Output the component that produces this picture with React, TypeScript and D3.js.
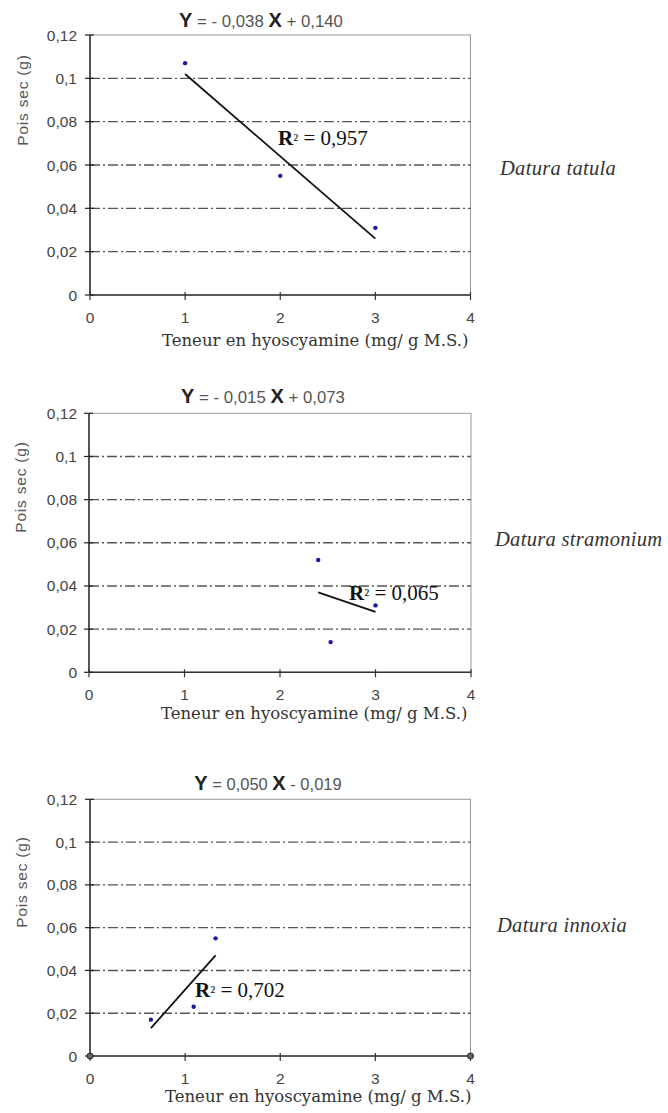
import React from "react";
import * as d3 from "d3";

const xTicks = [0, 1, 2, 3, 4];
const yTicks = [0, 0.02, 0.04, 0.06, 0.08, 0.1, 0.12];
const speciesNames = ["Datura tatula", "Datura stramonium", "Datura innoxia"];
const tatulaX = [1, 2, 3];
const tatulaY = [0.107, 0.055, 0.031];
const stramoniumX = [2.4, 2.53, 3.0];
const stramoniumY = [0.052, 0.014, 0.031];
const innoxiaX = [0.64, 1.09, 1.32];
const innoxiaY = [0.017, 0.023, 0.055];
const slopes = [-0.038, -0.015, 0.05];
const intercepts = [0.14, 0.073, -0.019];
const rSquared = [0.957, 0.065, 0.702];
const cornerMarksX = [0, 4];
const xAxisTitle = "Teneur en hyoscyamine (mg/ g M.S.)";
const yAxisTitle = "Pois sec (g)";

const seriesX = [tatulaX, stramoniumX, innoxiaX];
const seriesY = [tatulaY, stramoniumY, innoxiaY];

const layouts = [
  { l: 90, r: 470.5, t: 35, b: 295, titleX: 261, titleY: 27, titleSize: 16.8, ySize: 20, tickSize: 15.5, yLabX: 23, yLabY: 100, yLabSize: 15.5, xLabX: 162, xLabY: 346, xLabSize: 16.5, r2X: 278, r2Y: 145, r2Size: 21, spX: 500, spY: 175, spSize: 20.5, yTickGap: 13, corner: false },
  { l: 89, r: 471, t: 413.3, b: 672.3, titleX: 263, titleY: 403, titleSize: 16.8, ySize: 20, tickSize: 15.5, yLabX: 21, yLabY: 487, yLabSize: 15.5, xLabX: 161, xLabY: 719, xLabSize: 16.5, r2X: 349, r2Y: 600, r2Size: 21, spX: 495, spY: 546, spSize: 20.5, yTickGap: 12, corner: false },
  { l: 90, r: 470.5, t: 799.3, b: 1056, titleX: 268, titleY: 790, titleSize: 16.5, ySize: 20, tickSize: 15.5, yLabX: 22, yLabY: 882, yLabSize: 15.5, xLabX: 165, xLabY: 1102, xLabSize: 16.5, r2X: 195, r2Y: 997, r2Size: 21, spX: 497, spY: 932, spSize: 20.5, yTickGap: 13, corner: true },
];

const fmtTick = (v: number) => String(+v.toFixed(2)).replace(".", ",");
const fmt3 = (v: number) => Math.abs(v).toFixed(3).replace(".", ",");

function Panel({ i }: { i: number }) {
  const L = layouts[i];
  const x = d3.scaleLinear().domain([0, 4]).range([L.l, L.r]);
  const y = d3.scaleLinear().domain([0, 0.12]).range([L.b, L.t]);
  const xs = seriesX[i];
  const ys = seriesY[i];
  const pts = xs.map((v, k) => [v, ys[k]] as [number, number]);
  const xMin = d3.min(xs) as number;
  const xMax = d3.max(xs) as number;
  const trend = d3
    .line<number>()
    .x((v) => x(v))
    .y((v) => y(slopes[i] * v + intercepts[i]));
  const slope = slopes[i];
  const inter = intercepts[i];
  const sans = "'Liberation Sans', Arial, sans-serif";
  const serif = "'DejaVu Serif', serif";
  const times = "'Liberation Serif', 'Times New Roman', serif";
  return (
    <g>
      <rect x={L.l} y={L.t} width={L.r - L.l} height={L.b - L.t} fill="#fff" stroke="#9a9a9a" strokeWidth={1} />
      {yTicks.filter((t) => t > 0 && t < 0.12).map((t) => (
        <line key={t} x1={L.l} x2={L.r} y1={y(t)} y2={y(t)} stroke="#555" strokeWidth={1.4} strokeDasharray="10,3,2,3" />
      ))}
      <line x1={L.l} x2={L.l} y1={L.t} y2={L.b} stroke="#222" strokeWidth={1.4} />
      <line x1={L.l} x2={L.r} y1={L.b} y2={L.b} stroke="#333" strokeWidth={1.6} />
      {yTicks.map((t) => (
        <g key={t}>
          <line x1={L.l - 5} x2={L.l + 4} y1={y(t)} y2={y(t)} stroke="#222" strokeWidth={1.2} />
          <text x={L.l - L.yTickGap} y={y(t) + 5.5} textAnchor="end" fontFamily={sans} fontSize={L.tickSize} fill="#444">
            {fmtTick(t)}
          </text>
        </g>
      ))}
      {xTicks.map((t) => (
        <g key={t}>
          <line x1={x(t)} x2={x(t)} y1={L.b - 3} y2={L.b + 5} stroke="#333" strokeWidth={1.2} />
          <text x={x(t)} y={L.b + 28} textAnchor="middle" fontFamily={sans} fontSize={L.tickSize} fill="#444">
            {t}
          </text>
        </g>
      ))}
      {L.corner &&
        cornerMarksX.map((c) => (
          <circle key={c} cx={x(c)} cy={y(0)} r={3} fill="#666" stroke="#222" strokeWidth={1} />
        ))}
      <path d={trend([xMin, xMax]) || ""} fill="none" stroke="#111" strokeWidth={1.8} />
      {pts.map((p, k) => (
        <circle key={k} cx={x(p[0])} cy={y(p[1])} r={2.2} fill="#1a1a9c" />
      ))}
      <text x={L.titleX} y={L.titleY} textAnchor="middle" fontFamily={sans} fontSize={L.titleSize} fill="#555">
        <tspan fontWeight="bold" fontSize={L.ySize} fill="#222">Y</tspan>
        <tspan>{` = ${slope < 0 ? "- " : ""}${fmt3(slope)} `}</tspan>
        <tspan fontWeight="bold" fontSize={L.ySize} fill="#222">X</tspan>
        <tspan>{` ${inter < 0 ? "-" : "+"} ${fmt3(inter)}`}</tspan>
      </text>
      <text x={L.r2X} y={L.r2Y} fontFamily={times} fontSize={L.r2Size} fill="#111">
        <tspan fontWeight="bold">R</tspan>
        <tspan fontSize={L.r2Size * 0.8}>²</tspan>
        <tspan>{` = ${rSquared[i].toFixed(3).replace(".", ",")}`}</tspan>
      </text>
      <text
        transform={`translate(${L.yLabX},${L.yLabY}) rotate(-90)`}
        textAnchor="middle"
        dy="0.35em"
        fontFamily={sans}
        fontSize={L.yLabSize}
        letterSpacing={0.8}
        fill="#555"
      >
        {yAxisTitle}
      </text>
      <text x={L.xLabX} y={L.xLabY} fontFamily={serif} fontSize={L.xLabSize} fill="#333">
        {xAxisTitle}
      </text>
      <text x={L.spX} y={L.spY} fontFamily={times} fontStyle="italic" fontSize={L.spSize} letterSpacing={0.3} fill="#333">
        {speciesNames[i]}
      </text>
    </g>
  );
}

export default function App() {
  return (
    <svg width={668} height={1113} style={{ position: "absolute", left: 0, top: 0, background: "#fff" }}>
      <rect width={668} height={1113} fill="#fff" />
      {speciesNames.map((_, i) => (
        <Panel key={i} i={i} />
      ))}
    </svg>
  );
}
